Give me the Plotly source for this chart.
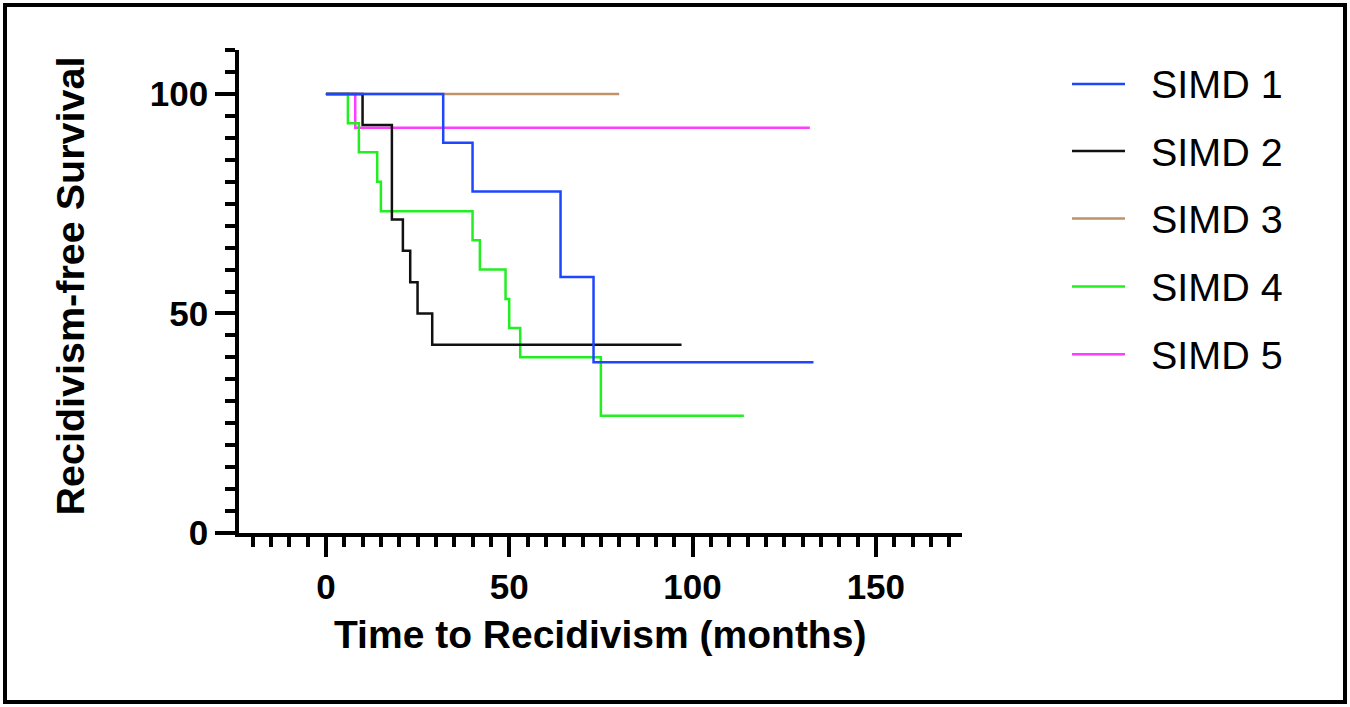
import plotly.graph_objects as go

# ---- data ----
series_names = ["SIMD 1", "SIMD 2", "SIMD 3", "SIMD 4", "SIMD 5"]
series_colors = ["#1E46FF", "#111111", "#BF9268", "#22EE22", "#FF3CFF"]

simd1_t = [0, 32, 40, 64, 73, 133]
simd1_s = [100, 88.9, 77.8, 58.3, 38.9, 38.9]

simd2_t = [0, 10, 18, 21, 23, 25, 29, 97]
simd2_s = [100, 92.9, 71.4, 64.3, 57.1, 50.0, 42.9, 42.9]

simd3_t = [0, 80]
simd3_s = [100, 100]

simd4_t = [0, 6, 9, 14, 15, 40, 42, 49, 50, 53, 75, 114]
simd4_s = [100, 93.3, 86.7, 80.0, 73.3, 66.7, 60.0, 53.3, 46.7, 40.0, 26.7, 26.7]

simd5_t = [0, 8, 132]
simd5_s = [100, 92.3, 92.3]

x_tickvals = [0, 50, 100, 150]
y_tickvals = [0, 50, 100]

x_title = "Time to Recidivism (months)"
y_title = "Recidivism-free Survival"

series_t = [simd1_t, simd2_t, simd3_t, simd4_t, simd5_t]
series_s = [simd1_s, simd2_s, simd3_s, simd4_s, simd5_s]

FONT = "Liberation Sans, Arial, Helvetica, sans-serif"

fig = go.Figure()

# draw order: SIMD 3, 5, 4, 2, then 1 on top
for i in [2, 4, 3, 1, 0]:
    fig.add_trace(go.Scatter(
        x=series_t[i], y=series_s[i], mode="lines", name=series_names[i],
        line=dict(color=series_colors[i], width=2.5, shape="hv"),
        showlegend=False,
    ))

# plot area in pixels: x 239..962, y 50..533
L, R, T, B = 239, 388, 50, 174
W, H = 1350, 707
pw, ph = W - L - R, H - T - B

def px(xp):
    return (xp - L) / pw

def py(yp):
    return (H - B - yp) / ph

axis_common = dict(
    showline=True, linecolor="black", linewidth=3.5,
    ticks="outside", ticklen=20, tickwidth=3.5, tickcolor="black",
    showgrid=False, zeroline=False,
    tickfont=dict(family=FONT, size=35, color="black", weight="bold"),
)

fig.update_xaxes(
    range=[-23.7, 173.5], tickvals=x_tickvals, ticklabelstandoff=0,
    minor=dict(ticks="outside", ticklen=10, tickwidth=3.5, tickcolor="black",
               dtick=5, tick0=0, showgrid=False),
    **axis_common,
)
fig.update_yaxes(
    range=[0, 110], tickvals=y_tickvals,
    minor=dict(ticks="outside", ticklen=10, tickwidth=3.5, tickcolor="black",
               dtick=5, tick0=0, showgrid=False),
    **axis_common,
)

annotations = [
    dict(text=x_title, x=px(600), y=py(634), xref="paper", yref="paper",
         showarrow=False, xanchor="center", yanchor="middle",
         font=dict(family=FONT, size=39, color="black", weight="bold")),
    dict(text=y_title, x=px(69), y=py(286.5), xref="paper", yref="paper",
         showarrow=False, xanchor="center", yanchor="middle", textangle=-90,
         font=dict(family=FONT, size=39.5, color="black", weight="bold")),
]

shapes = [
    dict(type="rect", xref="paper", yref="paper",
         x0=px(5), x1=px(1345), y0=py(702), y1=py(5),
         line=dict(color="black", width=4), fillcolor="rgba(0,0,0,0)"),
]

# manual legend
legend_y_px = [84, 151, 218.5, 286.5, 354.3]
for name, col, ly in zip(series_names, series_colors, legend_y_px):
    shapes.append(dict(type="line", xref="paper", yref="paper",
                       x0=px(1072), x1=px(1125), y0=py(ly), y1=py(ly),
                       line=dict(color=col, width=2.5)))
    annotations.append(dict(text=name, x=px(1149), y=py(ly + 0.5), xref="paper", yref="paper",
                            showarrow=False, xanchor="left", yanchor="middle",
                            font=dict(family=FONT, size=39.5, color="black")))

fig.update_layout(
    width=W, height=H,
    margin=dict(l=L, r=R, t=T, b=B, pad=0),
    paper_bgcolor="white", plot_bgcolor="white",
    annotations=annotations, shapes=shapes,
    showlegend=False,
)

fig.write_html("out.html")
